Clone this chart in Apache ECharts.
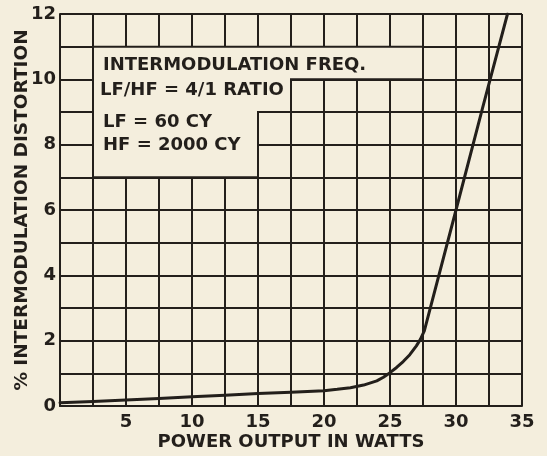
<!DOCTYPE html>
<html>
<head>
<meta charset="utf-8">
<script src="https://cdn.jsdelivr.net/npm/echarts@6/dist/echarts.min.js"></script>
<style>
html,body{margin:0;padding:0;background:#f4eedd;}
#c{width:547px;height:456px;}
</style>
</head>
<body>
<div id="c"></div>
<script>
// Data
const powerWatts = [0, 2.5, 5, 7.5, 10, 12.5, 15, 17.5, 20, 21, 22, 23, 24, 24.5, 25, 25.5, 26, 26.5, 27, 27.3, 27.6, 30, 32, 33.9];
const distortionPct = [0.1, 0.14, 0.18, 0.23, 0.28, 0.33, 0.38, 0.42, 0.47, 0.51, 0.56, 0.64, 0.77, 0.88, 1.02, 1.18, 1.36, 1.57, 1.84, 2.04, 2.3, 6.0, 9.1, 12];
const xTickLabels = [5, 10, 15, 20, 25, 30, 35];
const yTickLabels = [0, 2, 4, 6, 8, 10, 12];
const xAxisTitle = 'POWER OUTPUT IN WATTS';
const yAxisTitle = '% INTERMODULATION DISTORTION';
const noteLines = ['INTERMODULATION FREQ.', 'LF/HF = 4/1 RATIO', 'LF = 60 CY', 'HF = 2000 CY'];
// Outline (in data units) of the blank label panel that hides the grid
const panelX = [2.5, 27.5, 27.5, 17.5, 17.5, 15, 15, 2.5];
const panelY = [11, 11, 10, 10, 9, 9, 7, 7];

const ink = '#231f1b';
const paper = '#f4eedd';
const font = 'DejaVu Sans';

const chart = echarts.init(document.getElementById('c'));
chart.setOption({
  backgroundColor: paper,
  animation: false,
  grid: {left: 60, right: 25, top: 14, bottom: 50, containLabel: false, outerBoundsMode: 'none'},
  xAxis: {
    type: 'value', min: 0, max: 35, interval: 2.5,
    name: xAxisTitle, nameLocation: 'middle', nameGap: 27, nameMoveOverlap: false,
    nameTextStyle: {color: ink, fontFamily: font, fontSize: 18, fontWeight: 'bold'},
    axisLine: {show: true, lineStyle: {color: ink, width: 2}},
    axisTick: {show: false},
    splitLine: {show: true, lineStyle: {color: ink, width: 2}},
    axisLabel: {
      color: ink, fontFamily: font, fontSize: 18, fontWeight: 'bold', margin: 7,
      formatter: v => xTickLabels.indexOf(v) >= 0 ? String(v) : ''
    }
  },
  yAxis: {
    type: 'value', min: 0, max: 12, interval: 1,
    name: yAxisTitle, nameLocation: 'middle', nameGap: 28, nameRotate: 90, nameMoveOverlap: false,
    nameTextStyle: {color: ink, fontFamily: font, fontSize: 18.5, fontWeight: 'bold'},
    axisLine: {show: true, lineStyle: {color: ink, width: 2}},
    axisTick: {show: false},
    splitLine: {show: true, lineStyle: {color: ink, width: 2}},
    axisLabel: {
      color: ink, fontFamily: font, fontSize: 18, fontWeight: 'bold', margin: 4,
      formatter: v => yTickLabels.indexOf(v) >= 0 ? String(v) : ''
    }
  },
  series: [
    {
      type: 'custom',
      z: 1,
      silent: true,
      data: [0],
      renderItem: function (params, api) {
        const pts = panelX.map((x, i) => api.coord([x, panelY[i]]));
        return {
          type: 'polygon',
          shape: {points: pts},
          style: {fill: paper, stroke: ink, lineWidth: 2}
        };
      }
    },
    {
      type: 'line',
      z: 3,
      data: powerWatts.map((x, i) => [x, distortionPct[i]]),
      showSymbol: false,
      smooth: false,
      lineStyle: {color: ink, width: 3, join: 'round', cap: 'round'},
      clip: true
    }
  ],
  graphic: {
    elements: noteLines.map((t, i) => ({
      type: 'text',
      z: 100,
      left: i === 1 ? 100 : 103,
      top: [56, 81, 113, 136][i],
      style: {text: t, fill: ink, fontFamily: font, fontSize: 18, fontWeight: 'bold'}
    }))
  }
});
</script>
</body>
</html>
